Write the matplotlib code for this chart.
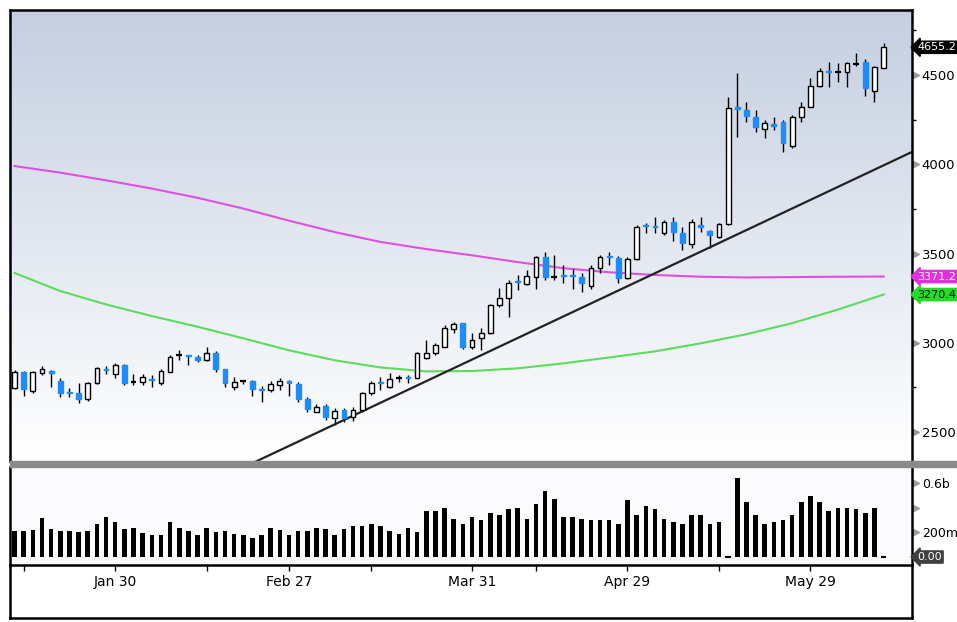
import numpy as np
import matplotlib
matplotlib.use("Agg")
import matplotlib.pyplot as plt
from matplotlib.lines import Line2D
from matplotlib.patches import Rectangle

plt.rcParams["font.family"] = ["Liberation Sans Narrow", "DejaVu Sans"]

# daily OHLC (96 sessions)
opens = [2749, 2835, 2732, 2830, 2844, 2788, 2724, 2721, 2684, 2774,
         2852, 2824, 2876, 2783, 2780, 2796, 2774, 2838, 2930, 2932,
         2922, 2904, 2945, 2852, 2755, 2785, 2788, 2740, 2736, 2764,
         2788, 2770, 2684, 2615, 2647, 2581, 2624, 2583, 2624, 2718,
         2783, 2755, 2805, 2807, 2801, 2914, 2941, 2978, 3076, 3109,
         2978, 3025, 3053, 3212, 3250, 3347, 3330, 3370, 3483, 3370,
         3380, 3378, 3370, 3318, 3418, 3486, 3474, 3362, 3468, 3660,
         3654, 3613, 3679, 3613, 3554, 3660, 3626, 3591, 3666, 4319,
         4304, 4263, 4196, 4224, 4239, 4104, 4263, 4323, 4438, 4524,
         4517, 4518, 4560, 4574, 4412, 4538]
highs = [2848, 2840, 2844, 2872, 2846, 2801, 2745, 2774, 2783, 2867,
         2872, 2886, 2880, 2824, 2826, 2820, 2852, 2930, 2960, 2934,
         2932, 2978, 2956, 2856, 2811, 2793, 2793, 2758, 2788, 2801,
         2790, 2780, 2695, 2656, 2658, 2633, 2633, 2640, 2727, 2788,
         2811, 2830, 2818, 2820, 2950, 3016, 2998, 3101, 3119, 3112,
         3053, 3082, 3220, 3306, 3352, 3380, 3406, 3486, 3510, 3492,
         3436, 3412, 3390, 3436, 3492, 3510, 3486, 3480, 3660, 3673,
         3703, 3688, 3707, 3650, 3692, 3707, 3630, 3670, 4378, 4510,
         4350, 4304, 4248, 4267, 4248, 4274, 4350, 4481, 4537, 4574,
         4565, 4574, 4625, 4588, 4550, 4677]
lows = [2742, 2702, 2721, 2820, 2755, 2699, 2695, 2662, 2676, 2770,
        2824, 2801, 2765, 2764, 2764, 2755, 2765, 2834, 2904, 2876,
        2893, 2900, 2838, 2755, 2736, 2770, 2702, 2671, 2727, 2736,
        2702, 2671, 2615, 2610, 2568, 2540, 2556, 2562, 2612, 2708,
        2736, 2745, 2780, 2774, 2801, 2908, 2930, 2976, 3057, 2964,
        2964, 2960, 3050, 3203, 3147, 3296, 3324, 3300, 3352, 3352,
        3334, 3300, 3287, 3300, 3393, 3436, 3337, 3355, 3465, 3613,
        3613, 3605, 3572, 3520, 3530, 3623, 3530, 3585, 3660, 4155,
        4239, 4183, 4145, 4192, 4071, 4090, 4239, 4319, 4434, 4434,
        4462, 4434, 4550, 4382, 4350, 4538]
closes = [2838, 2742, 2835, 2852, 2833, 2718, 2718, 2684, 2774, 2858,
          2845, 2876, 2774, 2783, 2811, 2790, 2842, 2922, 2930, 2927,
          2904, 2941, 2855, 2777, 2783, 2785, 2740, 2734, 2770, 2788,
          2777, 2684, 2628, 2643, 2583, 2618, 2578, 2624, 2718, 2777,
          2777, 2796, 2805, 2801, 2941, 2945, 2988, 3082, 3106, 2978,
          3016, 3057, 3212, 3250, 3337, 3341, 3374, 3483, 3370, 3370,
          3374, 3372, 3333, 3418, 3483, 3480, 3362, 3468, 3647, 3654,
          3648, 3679, 3623, 3557, 3679, 3651, 3604, 3666, 4313, 4311,
          4270, 4207, 4230, 4216, 4118, 4263, 4323, 4438, 4524, 4517,
          4517, 4565, 4560, 4425, 4547, 4655.2]

# volume in millions
volume = [212, 215, 223, 316, 226, 212, 212, 204, 212, 272,
          326, 286, 226, 237, 196, 177, 177, 283, 239, 212,
          177, 237, 204, 212, 190, 177, 155, 182, 237, 223,
          177, 209, 209, 237, 226, 177, 226, 253, 253, 272,
          253, 209, 185, 237, 200, 375, 375, 403, 313, 272,
          326, 299, 359, 345, 389, 403, 313, 435, 539, 476,
          326, 326, 313, 299, 299, 299, 272, 462, 345, 419,
          389, 313, 286, 272, 345, 345, 272, 286, 0, 647,
          449, 345, 272, 286, 299, 345, 449, 495, 449, 375,
          403, 403, 389, 359, 403, 0]

# moving averages, read every few sessions
ma_idx = [0, 5, 10, 15, 20, 25, 30, 35, 40, 45, 50, 55, 60, 65, 70, 75, 80, 85, 90, 95]
ma_long = [3990, 3953, 3910, 3864, 3812, 3752, 3684, 3620, 3565, 3525,
           3490, 3452, 3418, 3395, 3380, 3370, 3366, 3368, 3370, 3371.2]
ma_short = [3391, 3290, 3215, 3150, 3090, 3025, 2958, 2902, 2862, 2840,
            2842, 2857, 2885, 2918, 2952, 2997, 3048, 3110, 3186, 3270.4]

# support trendline end points (session index, price)
trend_idx = [26.3, 98.1]
trend_val = [2333, 4069]

tick_idx = [1, 11, 21, 30, 39, 50, 57, 67, 77, 87]
tick_labels = ["", "Jan 30", "", "Feb 27", "", "Mar 31", "", "Apr 29", "", "May 29"]
price_ticks = [2500, 3000, 3500, 4000, 4500]
vol_ticks = [0, 200, 400, 600]
vol_tick_labels = ["", "200m", "", "0.6b"]

W, H = 957, 622


def fx(px):
    return px / W


def fy(py):
    return 1 - py / H


fig = plt.figure(figsize=(W / 100, H / 100), dpi=100)
fig.patch.set_facecolor("white")

rect_p = [fx(10), fy(461), fx(912) - fx(10), fy(10) - fy(461)]
rect_v = [fx(10), fy(565), fx(912) - fx(10), fy(467) - fy(565)]

# gradient background behind the price panel
bg = fig.add_axes(rect_p, zorder=0)
grad = np.linspace(0, 1, 256)[:, None]
top = np.array([0.77, 0.81, 0.88])
bot = np.array([1.0, 1.0, 1.0])
img = top[None, None, :] * (1 - grad[..., None]) + bot[None, None, :] * grad[..., None]
bg.imshow(img, aspect="auto", extent=[0, 1, 0, 1])
bg.axis("off")

ax = fig.add_axes(rect_p, zorder=1)
ax.patch.set_alpha(0)
axv = fig.add_axes(rect_v, zorder=1, sharex=ax)
axv.set_facecolor("#fbfbfd")

o = np.array(opens, float)
h = np.array(highs, float)
l = np.array(lows, float)
c = np.array(closes, float)
x = np.arange(len(o))
up = c > o
dn = c < o
flat = c == o

blue = "#1e8cff"
ax.vlines(x, l, h, color="black", lw=1, zorder=2)
ax.bar(x[up], (c - o)[up], bottom=o[up], width=0.52, color="white",
       edgecolor="black", lw=1, zorder=3)
ax.bar(x[dn], (o - c)[dn], bottom=c[dn], width=0.52, color=blue,
       edgecolor=blue, lw=1, zorder=3)
ax.hlines(c[flat], x[flat] - 0.32, x[flat] + 0.32, color="black", lw=1.6, zorder=3)

ax.plot(ma_idx, ma_long, color="#e050e0", lw=1.5, zorder=1)
ax.plot(ma_idx, ma_short, color="#5cdc5c", lw=1.5, zorder=1)
ax.plot(trend_idx, trend_val, color="#222222", lw=1.6, zorder=2)

ax.set_xlim(-0.5, 98.1)
ax.set_ylim(2338, 4864)

for s in ["top", "left", "right"]:
    ax.spines[s].set_linewidth(1.8)
    ax.spines[s].set_color("black")
ax.spines["bottom"].set_visible(False)

ax.yaxis.tick_right()
ax.set_yticks(price_ticks)
ax.set_yticks([2750, 3250, 3750, 4250, 4750], minor=True)
ax.tick_params(axis="y", which="major", length=0, pad=7, labelsize=9.5)
ax.tick_params(axis="y", which="minor", length=3, width=1, color="black")
ax.tick_params(axis="x", which="both", length=0, labelbottom=False)
ytr = ax.get_yaxis_transform()
ax.plot(np.full(len(price_ticks), 1.004), price_ticks, marker=">", ls="none",
        ms=5, color="#999999", transform=ytr, clip_on=False)

# value tags at the right edge
tag = dict(transform=ytr, fontsize=8, va="center", ha="left", clip_on=False)
ax.text(1.006, c[-1], "%.1f" % c[-1], color="white",
        bbox=dict(boxstyle="larrow,pad=0.1", fc="black", ec="black"), **tag)
ax.text(1.006, ma_long[-1], "%.1f" % ma_long[-1], color="white",
        bbox=dict(boxstyle="larrow,pad=0.1", fc="#e030e0", ec="#e030e0"), **tag)
ax.text(1.006, ma_short[-1], "%.1f" % ma_short[-1], color="black",
        bbox=dict(boxstyle="larrow,pad=0.1", fc="#22dd22", ec="#22dd22"), **tag)

# volume panel
vol = np.array(volume, float)
nz = vol > 0
axv.bar(x[nz], vol[nz], width=0.5, color="black", zorder=2)
axv.hlines(np.zeros((~nz).sum()), x[~nz] - 0.3, x[~nz] + 0.3, color="black", lw=1.5)
axv.set_ylim(-65, 734)
axv.spines["top"].set_visible(False)
for s in ["left", "right", "bottom"]:
    axv.spines[s].set_linewidth(1.8)
    axv.spines[s].set_color("black")

axv.yaxis.tick_right()
axv.set_yticks(vol_ticks)
axv.set_yticklabels(vol_tick_labels)
axv.tick_params(axis="y", length=0, pad=7, labelsize=9)
vtr = axv.get_yaxis_transform()
axv.plot(np.full(len(vol_ticks), 1.004), vol_ticks, marker=">", ls="none",
         ms=5, color="#999999", transform=vtr, clip_on=False)
axv.text(1.006, 0, "0.00", transform=vtr, color="white", fontsize=8,
         va="center", ha="left", clip_on=False,
         bbox=dict(boxstyle="larrow,pad=0.1", fc="#404040", ec="#404040"))

axv.set_xticks(tick_idx)
axv.set_xticklabels(tick_labels)
axv.tick_params(axis="x", direction="out", length=4, width=1, pad=3, labelsize=10)

# separator band and outer frame
fig.add_artist(Rectangle((fx(10), fy(467)), 1 - fx(10), fy(461) - fy(467),
                         transform=fig.transFigure, color="#8a8a8a", zorder=5))
frame = dict(transform=fig.transFigure, color="black", lw=1.8, zorder=6)
fig.add_artist(Line2D([fx(10), fx(10)], [fy(565), fy(618)], **frame))
fig.add_artist(Line2D([fx(912), fx(912)], [fy(565), fy(618)], **frame))
fig.add_artist(Line2D([fx(10), fx(912)], [fy(618), fy(618)], **frame))

fig.savefig("out.png", dpi=100)
